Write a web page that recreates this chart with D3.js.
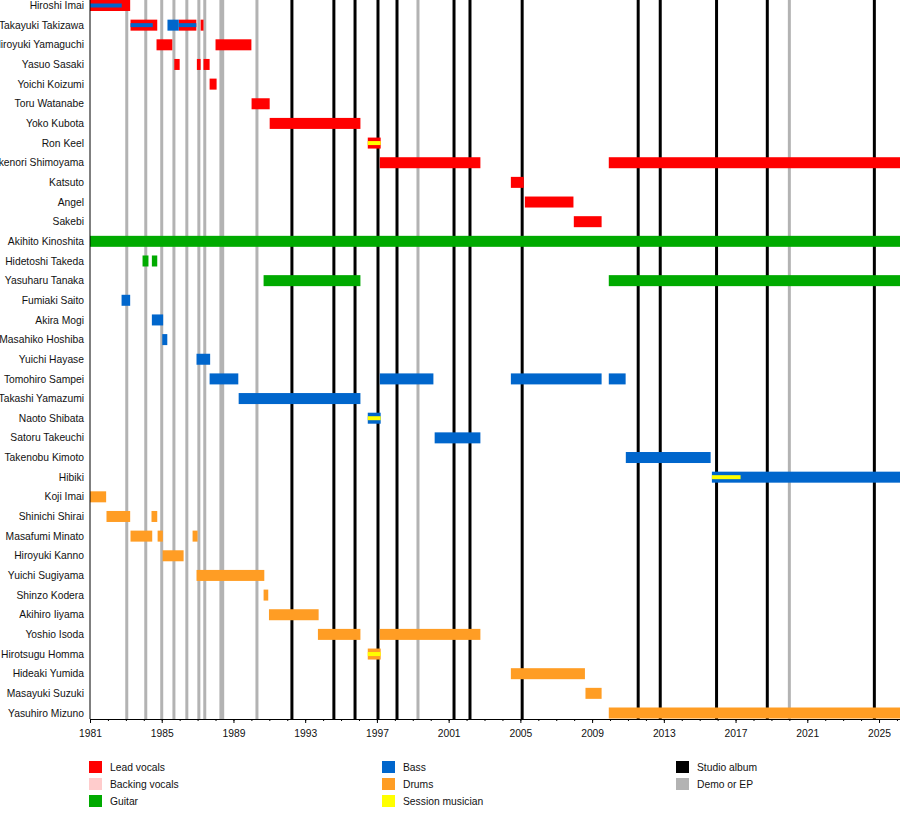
<!DOCTYPE html>
<html>
<head>
<meta charset="utf-8">
<script src="https://cdn.jsdelivr.net/npm/d3@7"></script>
<style>
  body { margin: 0; background: #fff; }
  text { font-family: "Liberation Sans", Arial, sans-serif; fill: #111; }
</style>
</head>
<body>
<div id="timeline"></div>
<script>
// members, top to bottom
var members = ["Hiroshi Imai", "Takayuki Takizawa", "Hiroyuki Yamaguchi", "Yasuo Sasaki",
  "Yoichi Koizumi", "Toru Watanabe", "Yoko Kubota", "Ron Keel", "Takenori Shimoyama",
  "Katsuto", "Angel", "Sakebi", "Akihito Kinoshita", "Hidetoshi Takeda", "Yasuharu Tanaka",
  "Fumiaki Saito", "Akira Mogi", "Masahiko Hoshiba", "Yuichi Hayase", "Tomohiro Sampei",
  "Takashi Yamazumi", "Naoto Shibata", "Satoru Takeuchi", "Takenobu Kimoto", "Hibiki",
  "Koji Imai", "Shinichi Shirai", "Masafumi Minato", "Hiroyuki Kanno", "Yuichi Sugiyama",
  "Shinzo Kodera", "Akihiro Iiyama", "Yoshio Isoda", "Hirotsugu Homma", "Hideaki Yumida",
  "Masayuki Suzuki", "Yasuhiro Mizuno"];

var timeStart = 1981, timeEnd = 2026.17;

// [member, from, till]
var leadVocals = [
  ["Hiroshi Imai", 1981, 1983.24],
  ["Takayuki Takizawa", 1983.26, 1984.75],
  ["Takayuki Takizawa", 1985.95, 1986.93],
  ["Takayuki Takizawa", 1987.17, 1987.33],
  ["Hiroyuki Yamaguchi", 1984.71, 1985.59],
  ["Hiroyuki Yamaguchi", 1988.0, 1990.0],
  ["Yasuo Sasaki", 1985.7, 1986.0],
  ["Yasuo Sasaki", 1986.96, 1987.17],
  ["Yasuo Sasaki", 1987.33, 1987.67],
  ["Yoichi Koizumi", 1987.67, 1988.06],
  ["Toru Watanabe", 1990.01, 1991.02],
  ["Yoko Kubota", 1991.02, 1996.08],
  ["Ron Keel", 1996.49, 1997.21],
  ["Takenori Shimoyama", 1997.16, 2002.77],
  ["Takenori Shimoyama", 2009.93, timeEnd],
  ["Katsuto", 2004.47, 2005.19],
  ["Angel", 2005.25, 2007.96],
  ["Sakebi", 2007.98, 2009.53]
];

var guitar = [
  ["Akihito Kinoshita", 1981, timeEnd],
  ["Hidetoshi Takeda", 1983.93, 1984.26],
  ["Hidetoshi Takeda", 1984.45, 1984.75],
  ["Yasuharu Tanaka", 1990.68, 1996.08],
  ["Yasuharu Tanaka", 2009.93, timeEnd]
];

var bass = [
  ["Takayuki Takizawa", 1985.32, 1985.95],
  ["Fumiaki Saito", 1982.76, 1983.24],
  ["Akira Mogi", 1984.45, 1985.08],
  ["Masahiko Hoshiba", 1985.03, 1985.31],
  ["Yuichi Hayase", 1986.94, 1987.7],
  ["Tomohiro Sampei", 1987.67, 1989.27],
  ["Tomohiro Sampei", 1997.16, 2000.15],
  ["Tomohiro Sampei", 2004.47, 2009.53],
  ["Tomohiro Sampei", 2009.93, 2010.87],
  ["Takashi Yamazumi", 1989.29, 1996.08],
  ["Naoto Shibata", 1996.49, 1997.21],
  ["Satoru Takeuchi", 2000.22, 2002.77],
  ["Takenobu Kimoto", 2010.88, 2015.61],
  ["Hibiki", 2015.68, timeEnd]
];

var drums = [
  ["Koji Imai", 1981, 1981.9],
  ["Shinichi Shirai", 1981.92, 1983.24],
  ["Shinichi Shirai", 1984.43, 1984.75],
  ["Masafumi Minato", 1983.26, 1984.47],
  ["Masafumi Minato", 1984.77, 1985.06],
  ["Masafumi Minato", 1986.72, 1987.0],
  ["Hiroyuki Kanno", 1985.05, 1986.22],
  ["Yuichi Sugiyama", 1986.94, 1990.72],
  ["Shinzo Kodera", 1990.68, 1990.94],
  ["Akihiro Iiyama", 1990.98, 1993.75],
  ["Yoshio Isoda", 1993.71, 1996.08],
  ["Yoshio Isoda", 1997.16, 2002.77],
  ["Hirotsugu Homma", 1996.49, 1997.21],
  ["Hideaki Yumida", 2004.47, 2008.6],
  ["Masayuki Suzuki", 2008.63, 2009.53],
  ["Yasuhiro Mizuno", 2009.93, timeEnd]
];

// thin bars drawn over the main ones
var bassSecondary = [
  ["Hiroshi Imai", 1981, 1982.77],
  ["Takayuki Takizawa", 1983.26, 1984.5],
  ["Takayuki Takizawa", 1985.95, 1986.93]
];

var session = [
  ["Ron Keel", 1996.49, 1997.21],
  ["Naoto Shibata", 1996.49, 1997.21],
  ["Hirotsugu Homma", 1996.49, 1997.21],
  ["Hibiki", 2015.68, 2017.28]
];

var studioAlbums = [1992.26, 1994.6, 1995.78, 1997.06, 1998.12, 2001.3, 2002.19, 2005.1,
  2011.57, 2012.8, 2015.94, 2018.77, 2024.74];
var demos = [1983.05, 1984.11, 1985.0, 1985.68, 1986.4, 1987.07, 1987.4, 1988.3, 1988.4,
  1990.31, 1999.29, 2020.0];

var majorTicks = [1981, 1985, 1989, 1993, 1997, 2001, 2005, 2009, 2013, 2017, 2021, 2025];
var minorTicks = d3.range(1981, 2027);

var legendItems = [
  ["Lead vocals", "#ff0000"], ["Backing vocals", "#ffcccc"], ["Guitar", "#00aa00"],
  ["Bass", "#0066cc"], ["Drums", "#ff9d24"], ["Session musician", "#ffff00"],
  ["Studio album", "#000000"], ["Demo or EP", "#b3b3b3"]
];

var colors = {
  vocals: "#ff0000", guitar: "#00aa00", bass: "#0066cc", drums: "#ff9d24",
  session: "#ffff00", album: "#000000", demo: "#b3b3b3"
};

var svgWidth = 900, svgHeight = 818;
var plotLeft = 90, plotBottom = 719;
var barHeight = 11, stripeHeight = 4;

var svg = d3.select("#timeline")
  .append("svg")
  .attr("width", svgWidth)
  .attr("height", svgHeight);

var x = d3.scaleLinear()
  .domain([timeStart, timeEnd])
  .range([plotLeft, svgWidth]);

var y = d3.scalePoint()
  .domain(members)
  .range([5.5, 713]);

// vertical release lines, behind the bars
function drawLines(years, color) {
  svg.append("g").selectAll("line").data(years).enter()
    .append("line")
    .attr("x1", d => x(d)).attr("x2", d => x(d))
    .attr("y1", 0).attr("y2", plotBottom)
    .attr("stroke", color)
    .attr("stroke-width", 3);
}
drawLines(demos, colors.demo);
drawLines(studioAlbums, colors.album);

// bars
function drawBars(data, color, h) {
  svg.append("g").selectAll("rect").data(data).enter()
    .append("rect")
    .attr("x", d => x(d[1]))
    .attr("width", d => x(d[2]) - x(d[1]))
    .attr("y", d => y(d[0]) - h / 2)
    .attr("height", h)
    .attr("fill", color);
}
drawBars(leadVocals, colors.vocals, barHeight);
drawBars(guitar, colors.guitar, barHeight);
drawBars(bass, colors.bass, barHeight);
drawBars(drums, colors.drums, barHeight);
drawBars(bassSecondary, colors.bass, stripeHeight);
drawBars(session, colors.session, stripeHeight);

// member names
svg.append("g").selectAll("text").data(members).enter()
  .append("text")
  .attr("x", 84)
  .attr("y", d => y(d))
  .attr("dy", "0.35em")
  .attr("text-anchor", "end")
  .attr("font-size", "10.3px")
  .text(d => d);

// left axis line
svg.append("line")
  .attr("x1", plotLeft).attr("x2", plotLeft)
  .attr("y1", 0).attr("y2", plotBottom)
  .attr("stroke", "#000");

// time axis
var minorAxis = d3.axisBottom(x).tickValues(minorTicks).tickSize(2).tickFormat("");
var majorAxis = d3.axisBottom(x).tickValues(majorTicks).tickSize(4).tickPadding(7)
  .tickFormat(d3.format("d"));

svg.append("g")
  .attr("transform", `translate(0, ${plotBottom})`)
  .call(minorAxis)
  .call(g => g.select(".domain").remove());

svg.append("g")
  .attr("transform", `translate(0, ${plotBottom})`)
  .call(majorAxis)
  .call(g => g.selectAll("text").attr("font-size", "10.3px").attr("fill", "#111")
    .style("font-family", "Liberation Sans, Arial, sans-serif"))
  .call(g => g.select(".domain").attr("d", `M${plotLeft},0.5H${svgWidth}`));

// legend, three columns
var legendCols = [89, 382, 676];
var legend = svg.append("g").selectAll("g").data(legendItems).enter()
  .append("g")
  .attr("transform", (d, i) => `translate(${legendCols[i < 3 ? 0 : (i < 6 ? 1 : 2)]}, ${761 + (i < 3 ? i : (i < 6 ? i - 3 : i - 6)) * 17})`);

legend.append("rect")
  .attr("width", 13)
  .attr("height", 12)
  .attr("fill", d => d[1]);

legend.append("text")
  .attr("x", 21)
  .attr("y", 6)
  .attr("dy", "0.35em")
  .attr("font-size", "10.3px")
  .text(d => d[0]);
</script>
</body>
</html>
